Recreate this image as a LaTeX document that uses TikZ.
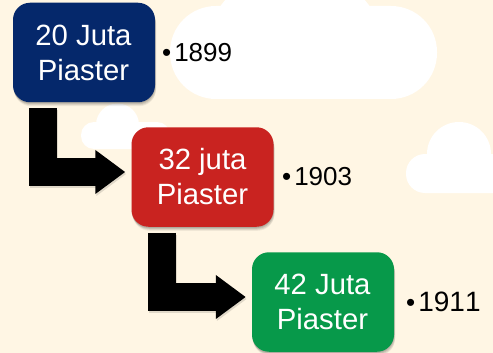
\documentclass[tikz,border=0pt]{standalone}
\usepackage{fontspec}
\setmainfont{Liberation Sans}[Kerning=Off]
\usetikzlibrary{arrows.meta,calc}
\definecolor{bgc}{HTML}{FFF6E4}
\definecolor{bluec}{HTML}{05286B}
\definecolor{redc}{HTML}{C92320}
\definecolor{greenc}{HTML}{07994A}
\tikzset{
  softshadow/.style={preaction={fill=black,opacity=.10,transform canvas={yshift=-1pt}},
    preaction={fill=black,opacity=.10,transform canvas={xshift=.5pt,yshift=-2pt}},
    preaction={fill=black,opacity=.08,transform canvas={xshift=1pt,yshift=-3pt}},
    preaction={fill=black,opacity=.06,transform canvas={xshift=1pt,yshift=-4pt}}},
  box/.style={rectangle,rounded corners=17pt,minimum width=142pt,minimum height=99.5pt,inner sep=0pt,
    text=white,align=center,font=\fontsize{29.3}{35}\selectfont,softshadow},
  year/.style={anchor=west,inner sep=0pt,text=black,font=\fontsize{26}{30}\selectfont},
  bigarrow/.style={line width=28pt,-{Triangle[length=30pt,width=42pt]}},
  arrowshade/.style={bigarrow,draw=black,opacity=.12,transform canvas={xshift=1pt,yshift=-2pt}}
}
\begin{document}
\begin{tikzpicture}[x=1pt,y=-1pt]
\useasboundingbox (0,0) rectangle (493,353);
\fill[bgc] (0,0) rectangle (493,353);
\begin{scope}
\clip (0,0) rectangle (493,353);
% big cloud
\fill[white,rounded corners=46pt] (170,6) rectangle (437,99);
\fill[white] (295,60) circle[radius=92pt];
\fill[bgc] (170,99) rectangle (437,160);
% small cloud
\fill[white,rounded corners=13pt] (81,122) rectangle (170,149);
\fill[white] (96,125) arc[start angle=180,end angle=0,radius=21.5pt] -- (139,135) -- (96,135) -- cycle;
% right cloud
\fill[white,rounded corners=19pt] (406,154) rectangle (520,193);
\fill[white] (427,154) arc[start angle=180,end angle=0,radius=32pt] -- (491,170) -- (427,170) -- cycle;
\end{scope}
\node[box,fill=bluec] (a) at (84,52.5) {\kern-1pt 20 Juta\\\kern-1pt Piaster};
\node[box,fill=redc] (b) at (202.5,177) {32 juta\\Piaster};
\node[box,fill=greenc] (c) at (323,302) {\kern-1pt 42 Juta\\\kern-1pt Piaster};
\coordinate (a1) at ($(a.south west)+(30,6)$);
\coordinate (t1) at ($(b.west)+(-6,-5)$);
\coordinate (b1) at ($(b.south west)+(31,6)$);
\coordinate (t2) at ($(c.west)+(-6,-5)$);
\draw[arrowshade] (a1) |- (t1);
\draw[arrowshade] (b1) |- (t2);
\draw[bigarrow] (a1) |- (t1);
\draw[bigarrow] (b1) |- (t2);
\node[year] (y1) at (162,53) {•\kern3pt 1899};
\node[year] (y2) at (282,177) {•\kern3pt 1903};
\node[year] (y3) at (406,302) {•\kern3pt{\fontsize{28}{30}\selectfont 1911}};
\end{tikzpicture}
\end{document}
